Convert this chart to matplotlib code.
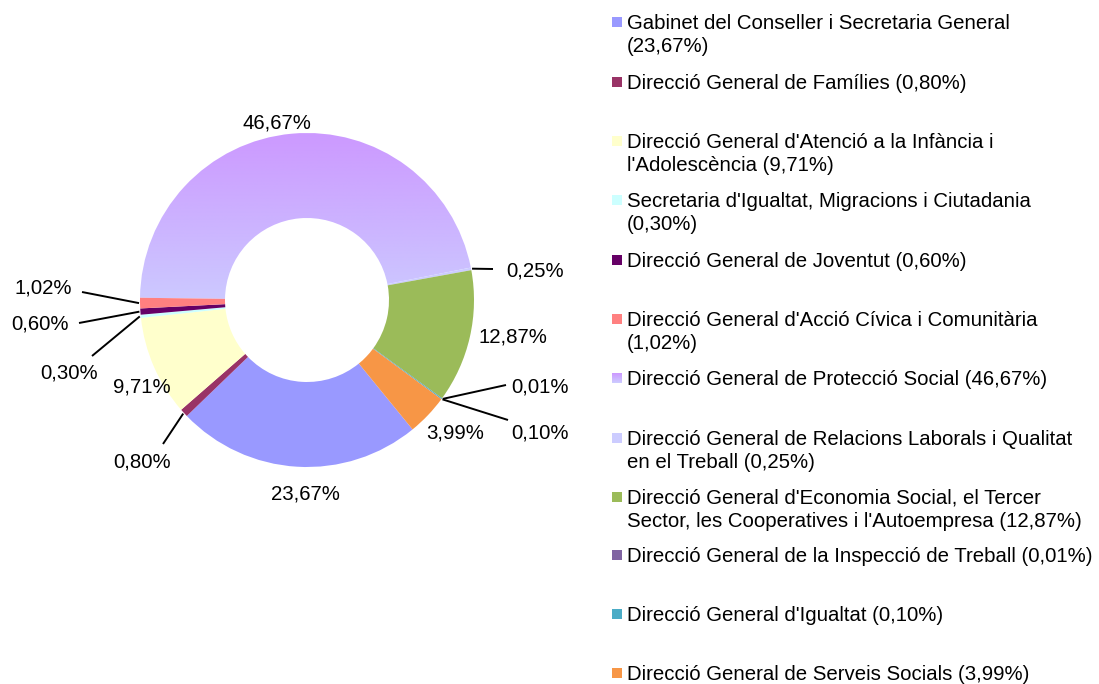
import numpy as np
import matplotlib.pyplot as plt
from matplotlib.patches import Rectangle
from matplotlib.colors import LinearSegmentedColormap

plt.rcParams['font.family'] = ['Liberation Sans', 'DejaVu Sans']

# data
names = ['Gabinet del Conseller i Secretaria General\n',
         'Direcció General de Famílies',
         "Direcció General d'Atenció a la Infància i\nl'Adolescència",
         "Secretaria d'Igualtat, Migracions i Ciutadania\n",
         'Direcció General de Joventut',
         "Direcció General d'Acció Cívica i Comunitària\n",
         'Direcció General de Protecció Social',
         'Direcció General de Relacions Laborals i Qualitat\nen el Treball',
         "Direcció General d'Economia Social, el Tercer\nSector, les Cooperatives i l'Autoempresa",
         'Direcció General de la Inspecció de Treball',
         "Direcció General d'Igualtat",
         'Direcció General de Serveis Socials']
shares = [23.67, 0.80, 9.71, 0.30, 0.60, 1.02, 46.67, 0.25, 12.87, 0.01, 0.10, 3.99]
colors = ['#9999FF', '#993366', '#FFFFCC', '#CCFFFF', '#660066', '#FF8080',
          '#CC99FF', '#CCCCFF', '#9BBB59', '#8064A2', '#4BACC6', '#F79646']

W, H = 1099, 684
fig = plt.figure(figsize=(W / 100, H / 100), dpi=100)
ax = fig.add_axes([0, 0, 1, 1])

def px(x, y):
    return x, H - y

cx, cy = px(307, 300)
R = 167
wedges, _ = ax.pie(shares, colors=colors, startangle=-50.8, counterclock=False,
                   center=(cx, cy), radius=R, frame=True,
                   wedgeprops=dict(width=85, linewidth=0))
ax.axis('off')
ax.set_aspect('auto')

# gradient fill for the large slice
grad = LinearSegmentedColormap.from_list('g', ['#CCCCFF', '#CC99FF'])
big = wedges[6]
big.set_facecolor('none')
img = ax.imshow(np.linspace(0, 1, 256).reshape(-1, 1), cmap=grad, aspect='auto',
                extent=(cx - R, cx + R, cy - 10, cy + R), origin='lower', zorder=0.5)
img.set_clip_path(big)

# data labels: (text position in px, leader line end in px or None)
lab_pos = [(305, 493, None), (142, 461, (163, 444)), (142, 386, None),
           (69, 372, (92, 356)), (40, 323, (79, 323)), (43, 287, (82, 292)),
           (277, 122, None), (535, 270, (493, 269)), (513, 336, None),
           (540, 386, (506, 385)), (540, 432, (508, 420)), (455, 432, None)]
fs = 14.7
for w, s, (lx, ly, end) in zip(wedges, shares, lab_pos):
    ax.text(*px(lx, ly + 1), f'{s:.2f}%'.replace('.', ','), fontsize=fs,
            ha='center', va='center', color='black')
    if end is not None:
        mid = np.deg2rad((w.theta1 + w.theta2) / 2)
        sx, sy = cx + (R + 1) * np.cos(mid), cy + (R + 1) * np.sin(mid)
        ex, ey = px(*end)
        ax.plot([sx, ex], [sy, ey], color='black', lw=1.4, solid_capstyle='butt')

# legend
leg_y = [22, 82, 141, 200, 260, 319, 378, 438, 497, 555, 614, 673]
for name, s, c, y in zip(names, shares, colors, leg_y):
    label = name.rstrip('\n')
    pct = f'({s:.2f}%)'.replace('.', ',')
    label = (label + '\n' + pct) if name.endswith('\n') else (label + ' ' + pct)
    mx, my = px(612, y + 5)
    if c == '#CC99FF':
        ax.imshow(np.linspace(0, 1, 32).reshape(-1, 1), cmap=grad, aspect='auto',
                  extent=(mx, mx + 10, my, my + 10), origin='lower', zorder=2)
    else:
        ax.add_patch(Rectangle((mx, my), 10, 10, facecolor=c, edgecolor='none'))
    ax.text(*px(627, y - 8), label, fontsize=fs, ha='left', va='top',
            linespacing=1.25, color='black')

ax.set_xlim(0, W)
ax.set_ylim(0, H)
fig.savefig('out.png', dpi=100)
